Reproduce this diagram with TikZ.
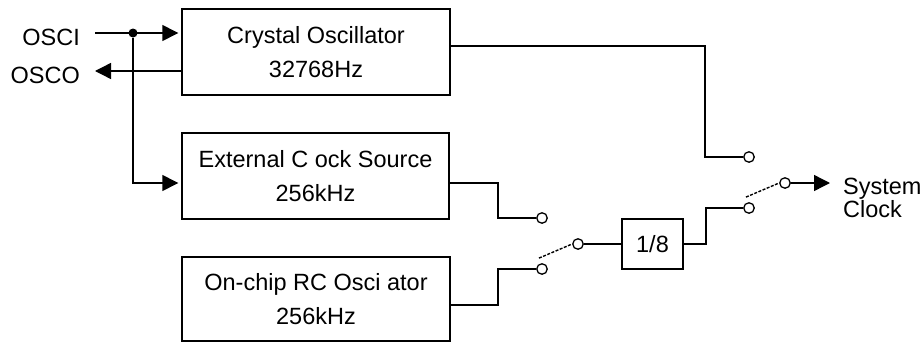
\documentclass[tikz,border=0pt]{standalone}
\usepackage{fontspec}
\setmainfont{Liberation Sans}
\usetikzlibrary{arrows.meta,calc}
\begin{document}
\begin{tikzpicture}[x=1pt,y=-1pt,
  txt/.style={font=\fontsize{23.5}{34.5}\selectfont},
  blk/.style={txt, draw, line width=1.4pt, rectangle, align=center, inner sep=0pt},
  term/.style={draw, circle, fill=white, minimum size=10.5pt, inner sep=0pt, line width=1.3pt},
  dotnode/.style={circle, fill=black, minimum size=9pt, inner sep=0pt},
  wire/.style={line width=1.4pt},
  arr/.style={wire, -{Triangle[length=16pt,width=16pt]}},
  blade/.style={line width=1.4pt, dash pattern=on 3pt off 1.5pt},
  lbl/.style={txt, inner sep=0pt}]
\useasboundingbox (0,0) rectangle (922,343);
% blocks
\node[blk, minimum width=268pt, minimum height=86pt] (crys) at (316,52) {Crystal Oscillator\\32768Hz};
\node[blk, minimum width=267pt, minimum height=86pt] (ext) at (315.5,176) {External C ock Source\\256kHz};
\node[blk, minimum width=268pt, minimum height=84pt] (rc) at (316,299) {On-chip RC Osci ator\\256kHz};
\node[blk, minimum width=61pt, minimum height=50pt] (div) at (652.5,244) {1/8};
% labels
\node[lbl, anchor=east] (osci) at (80,37) {OSCI};
\node[lbl, anchor=east] (osco) at (80,75) {OSCO};
\node[lbl, anchor=west, align=left, font=\fontsize{23.5}{23}\selectfont] (sys) at (843,198) {System\\Clock};
\coordinate (oscistart) at (95,33);
\coordinate (oscoend) at (95,71);
\coordinate (sysend) at (830,183);
% terminals
\node[term] (tA) at (749,157) {};
\node[term] (tB) at (749,208) {};
\node[term] (cC) at (785,183) {};
\node[term] (tE) at (542,218) {};
\node[term] (tR) at (542,269) {};
\node[term] (cD) at (578,244) {};
\node[dotnode] (jn) at (133,33) {};
% input connectors
\draw[arr, shorten >=3pt] (oscistart) -- (oscistart -| crys.west);
\draw[arr] (oscoend -| crys.west) -- (oscoend);
\draw[arr, shorten >=3pt] (jn) |- ([yshift=-7pt]ext.west);
% outputs
\draw[wire] ([yshift=6pt]crys.east) -| ($(tA.west)+(-38pt,0pt)$) -- (tA.west);
\draw[wire] ([yshift=-7pt]ext.east) -| ($(tE.west)+(-38pt,0pt)$) -- (tE.west);
\draw[wire] ([yshift=-6pt]rc.east) -| ($(tR.west)+(-38pt,0pt)$) -- (tR.west);
\draw[wire] (cD.east) -- (div.west);
\draw[wire] (div.east) -| ($(tB.west)+(-37pt,0pt)$) -- (tB.west);
\draw[arr] (cC.east) -- (sysend);
% switch blades
\draw[blade] ([shift={(-3pt,5pt)}]tR.north) -- (cD.west);
\draw[blade] ([shift={(-3pt,5pt)}]tB.north) -- (cC.west);
\end{tikzpicture}
\end{document}
